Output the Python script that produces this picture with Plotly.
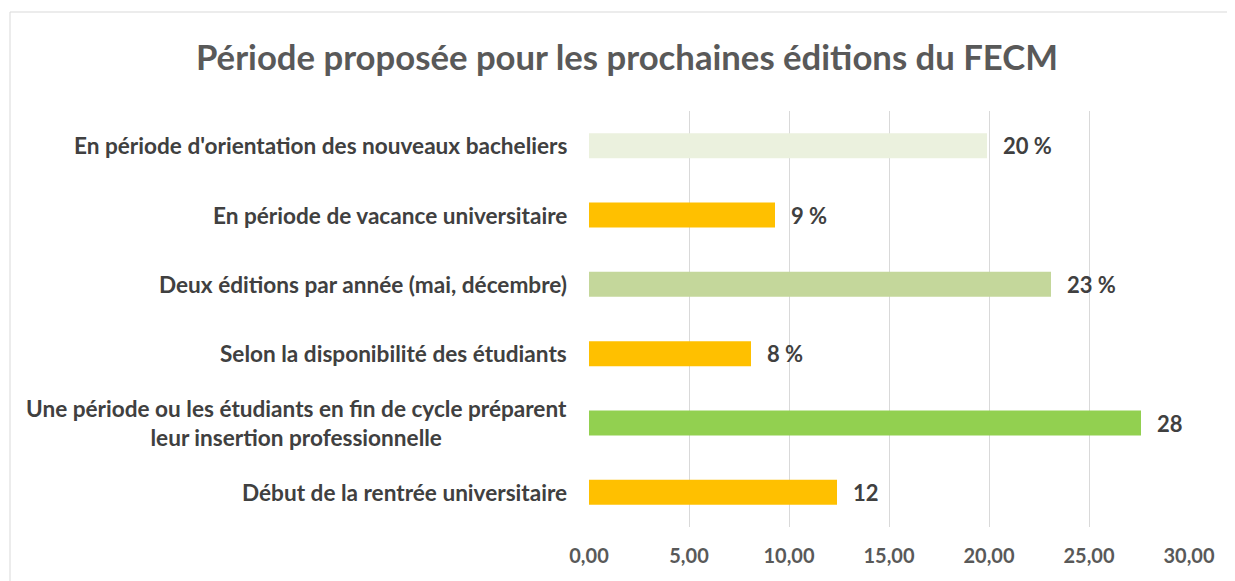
import plotly.graph_objects as go

categories = [
    "En période d'orientation des nouveaux bacheliers",
    "En période de vacance universitaire",
    "Deux éditions par année (mai, décembre)",
    "Selon la disponibilité des étudiants",
    "Une période ou les étudiants en fin de cycle préparent<br>leur insertion professionnelle",
    "Début de la rentrée universitaire",
]
values = [19.9, 9.3, 23.1, 8.1, 27.6, 12.4]
value_labels = ["20 %", "9 %", "23 %", "8 %", "28", "12"]
bar_colors = ["#EBF1DE", "#FFC000", "#C4D79B", "#FFC000", "#92D050", "#FFC000"]
x_ticks = [0, 5, 10, 15, 20, 25, 30]

FONT = "Lato, 'Open Sans', sans-serif"
OFF = 8  # page body margin
W, H = 1235 - OFF, 581 - OFF
L = 589 - OFF
T = 111 - OFF
R = W - (1189 - OFF)
B = H - (527 - OFF)
pw, ph = W - L - R, H - T - B

fig = go.Figure(go.Bar(
    x=values, y=categories, orientation="h",
    marker=dict(color=bar_colors, line=dict(width=0)),
    hoverinfo="skip",
))

annotations = []
for c, v, lab in zip(categories, values, value_labels):
    annotations.append(dict(x=v, y=c, xref="x", yref="y", text=f"<b>{lab}</b>",
                            showarrow=False, xanchor="left", xshift=14,
                            font=dict(family=FONT, size=22, color="#404040")))
    annotations.append(dict(x=0, y=c, xref="paper", yref="y", text=f"<b>{c}</b>",
                            showarrow=False, xanchor="right", align="center", xshift=-20,
                            font=dict(family=FONT, size=22.6, color="#404040")))

fig.update_layout(
    width=W, height=H,
    margin=dict(l=L, r=R, t=T, b=B, pad=0),
    paper_bgcolor="white", plot_bgcolor="white",
    separators=",.",
    bargap=0.64,
    showlegend=False,
    title=dict(text="<b>Période proposée pour les prochaines éditions du FECM</b>",
               x=(627 - OFF) / W, xanchor="center", y=1 - (58 - OFF) / H, yanchor="middle",
               yref="container", xref="container",
               font=dict(family=FONT, size=34.7, color="#595959")),
    xaxis=dict(range=[0, 30], tickvals=x_ticks, tickformat=".2f",
               showgrid=True, gridcolor="#D9D9D9", gridwidth=1,
               zeroline=False, showline=False,
               ticks="outside", ticklen=11, tickcolor="rgba(0,0,0,0)",
               tickfont=dict(family=FONT, size=20, color="#595959", weight="bold"),
               fixedrange=True),
    yaxis=dict(categoryorder="array", categoryarray=categories[::-1],
               showticklabels=False, showgrid=False, zeroline=False, showline=False,
               fixedrange=True),
    annotations=annotations,
    shapes=[dict(type="rect", xref="paper", yref="paper",
                 x0=(10 - OFF - L) / pw, x1=(W + 5 - L) / pw,
                 y0=(H - B - (H + 5)) / ph, y1=(H - B - (12 - OFF)) / ph,
                 line=dict(color="#D9D9D9", width=1), fillcolor="rgba(0,0,0,0)",
                 layer="below")],
)

fig.write_html("out.html")
